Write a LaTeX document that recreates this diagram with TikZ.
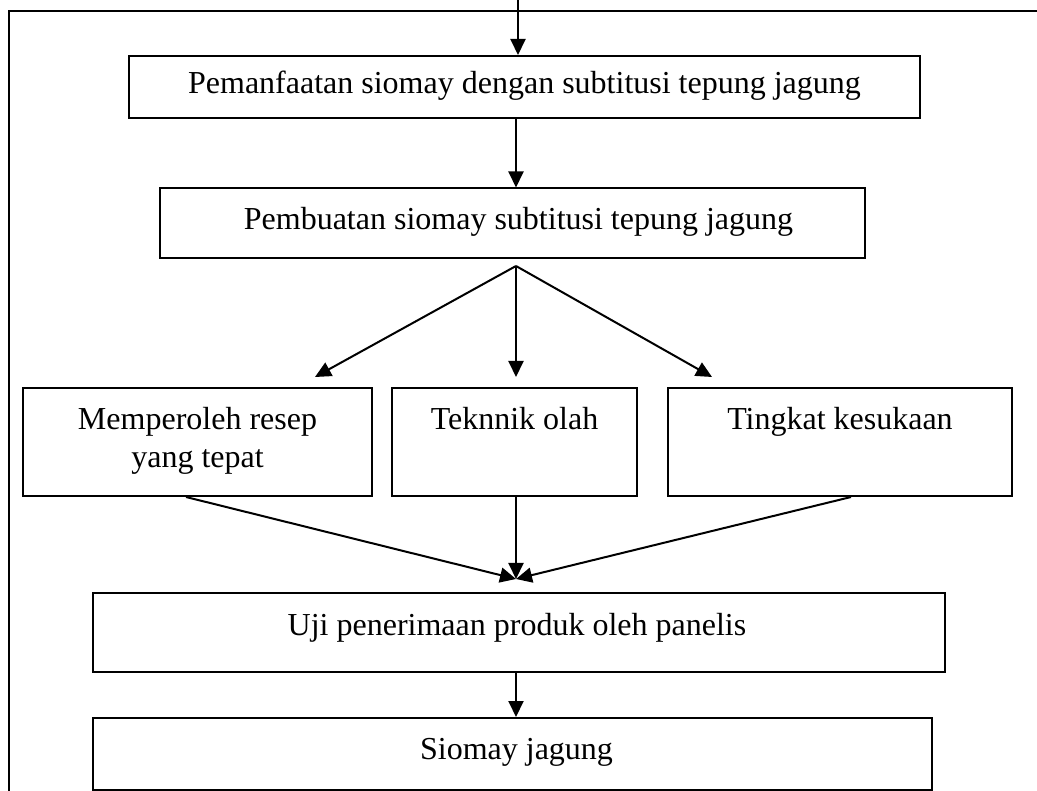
\documentclass[tikz,border=0pt]{standalone}
\usepackage{fontspec}
\setmainfont{Liberation Serif}
\usetikzlibrary{arrows.meta,calc}
\begin{document}
\begin{tikzpicture}[x=1pt,y=-1pt,
  box/.style={draw,line width=2pt,inner sep=0pt,rectangle},
  txt/.style={font=\fontsize{32}{38}\selectfont,align=center,inner sep=0pt},
  arr/.style={line width=2pt,-{Triangle[length=16pt,width=15pt]}},
  ln/.style={line width=2pt}]
\useasboundingbox (0,0) rectangle (1037,791);
\draw[line width=1.8pt] (9,791) -- (9,11) -- (1037,11);
% boxes
\node[box,minimum width=791,minimum height=62] (b1) at (524.5,87) {};
\node[txt] at ($(b1.center)+(0,-1)$) {Pemanfaatan siomay dengan subtitusi tepung jagung};
\node[box,minimum width=705,minimum height=70] (b2) at (512.5,223.5) {};
\node[txt] at ($(b2.center)+(6,-2)$) {Pembuatan siomay subtitusi tepung jagung};
\node[box,minimum width=349,minimum height=108] (b3a) at (197.5,442) {};
\node[txt,anchor=north] at ($(b3a.north)+(0,20)$) {Memperoleh resep\\yang tepat};
\node[box,minimum width=245,minimum height=108] (b3b) at (514.5,442) {};
\node[txt,anchor=north] at ($(b3b.north)+(0,20)$) {Teknnik olah};
\node[box,minimum width=344,minimum height=108] (b3c) at (840,442) {};
\node[txt,anchor=north] at ($(b3c.north)+(0,20)$) {Tingkat kesukaan};
\node[box,minimum width=852,minimum height=79] (b4) at (519,632.5) {};
\node[txt] at ($(b4.center)+(-2,-5)$) {Uji penerimaan produk oleh panelis};
\node[box,minimum width=839,minimum height=72] (b5) at (512.5,754) {};
\node[txt] at ($(b5.center)+(4,-2)$) {Siomay jagung};
% coordinates
\coordinate (top) at (518,0);
\coordinate (ap) at (516,266);
\coordinate (t1) at (315,377);
\coordinate (t3) at (712,377);
\coordinate (m) at (516,579);
% connectors
\draw[arr] (top) -- (top |- b1.north);
\draw[arr] (b1.south -| ap) -- (b2.north -| ap);
\draw[arr] (ap) -- (t1);
\draw[arr] (ap) -- (ap |- t1);
\draw[arr] (ap) -- (t3);
\draw[arr] ($(b3a.south west)+(164,0)$) -- (m);
\draw[arr] (b3b.south -| m) -- (m);
\draw[arr] ($(b3c.south west)+(184,0)$) -- (m);
\draw[arr] (b4.south -| m) -- (b5.north -| m);
\end{tikzpicture}
\end{document}
